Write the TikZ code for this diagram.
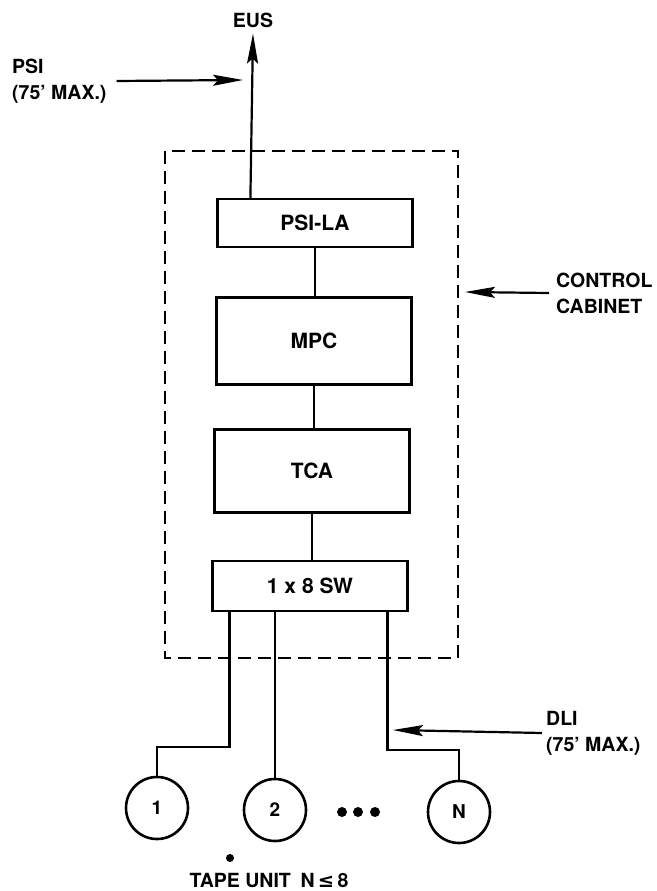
\documentclass[tikz,border=0pt]{standalone}
\usepackage{fontspec}
\setmainfont{TeX Gyre Heros}
\newfontfamily\symfont{DejaVu Sans}
\usetikzlibrary{arrows.meta}

\begin{document}
\begin{tikzpicture}[x=1pt, y=-1pt,
    unit/.style={draw, line width=2.2pt, minimum width=195pt, inner sep=0pt, font=\fontsize{21}{24}\selectfont\bfseries},
    tape/.style={draw, circle, line width=2.6pt, minimum size=62pt, inner sep=0pt, font=\fontsize{19}{22}\selectfont\bfseries},
    lbl/.style={align=left, inner sep=0pt, font=\fontsize{19.5}{26}\selectfont\bfseries},
    link/.style={line width=1.6pt},
    cable/.style={line width=2.6pt},
    cabinetline/.style={line width=2pt, dash pattern=on 13pt off 7pt},
    pointer/.style={line width=2.2pt, -{Stealth[length=30pt,width=11pt,inset=5pt]}}]

    \useasboundingbox (0,0) rectangle (656,891);

    % control cabinet
    \draw[cabinetline] (165,151) rectangle (458,658);

    \node[unit, minimum height=48pt] (psila) at (315,223) {PSI-LA};
    \node[unit, minimum height=87pt] (mpc) at (314,341) {MPC};
    \node[unit, minimum height=83pt] (tca) at (312,471) {TCA};
    \node[unit, minimum height=50pt] (sw) at (310,586) {1 x 8 SW};

    \draw[link] (psila.south) -- (psila.south |- mpc.north);
    \draw[link] (mpc.south) -- (mpc.south |- tca.north);
    \draw[link] (tca.south) -- (tca.south |- sw.north);

    % tape units
    \node[tape] (u1) at (157,808) {1};
    \node[tape] (u2) at (275,810) {2};
    \node[tape] (uN) at (459,812) {N};
    \foreach \x in {342,358,375}
        \fill (\x,812) circle (5pt);
    \fill (230,858) circle (4pt);

    \draw[cable] ([xshift=18pt]sw.south west) -- ++(0,135) -| (u1.north);
    \draw[cable] (u2.north |- sw.south) -- (u2.north);
    \draw[cable] ([xshift=176pt]sw.south west) -- ++(0,138) -| (uN.north);

    % labels
    \node[lbl] (eus) at (253,20) {EUS};
    \node[lbl, anchor=west] (psi) at (12,81) {PSI\\(75’ MAX.)};
    \node[lbl, anchor=west] (cabinet) at (556,293) {CONTROL\\CABINET};
    \node[lbl, anchor=west] (dli) at (546,733) {DLI\\(75’ MAX.)};
    \node[lbl] (units) at (269,880) {TAPE UNIT\enspace N\,{\symfont\bfseries ≤}\,8};

    \draw[pointer] ([xshift=34pt]psila.north west) -- ([yshift=-6pt]eus.south);
    \draw[pointer] ([xshift=10pt]psi.east) -- (243,80);
    \draw[pointer] ([xshift=-7pt]cabinet.west) -- (465,292);
    \draw[pointer] ([xshift=-4pt]dli.west) -- (393,730);
\end{tikzpicture}
\end{document}
